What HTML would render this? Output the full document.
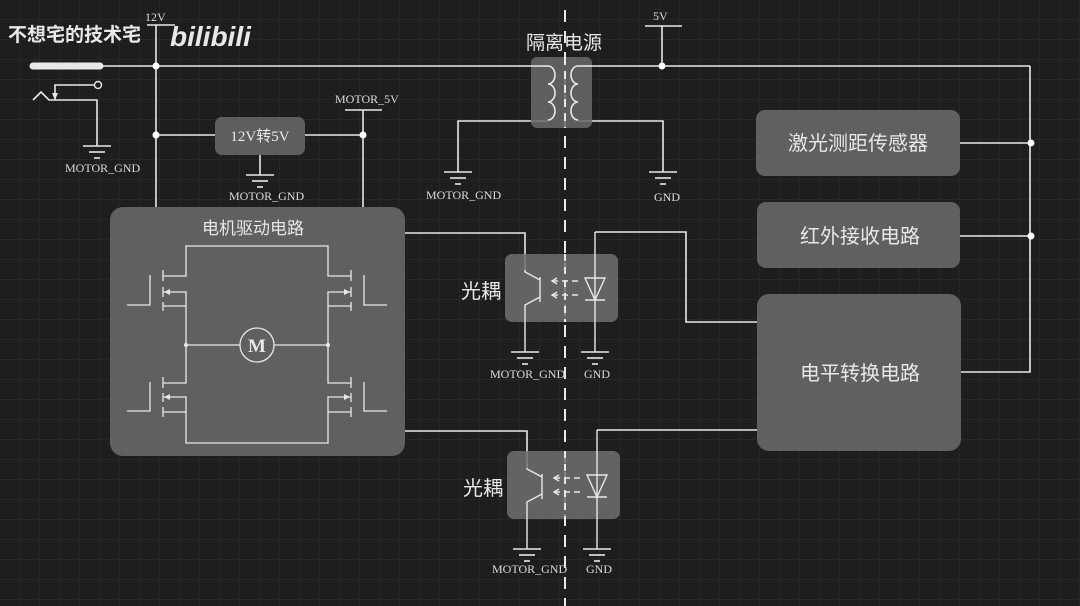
<!DOCTYPE html>
<html><head><meta charset="utf-8"><style>
html,body{margin:0;padding:0;background:#1e1e1e;}
svg{display:block;}
text{font-family:"Liberation Sans","Noto Sans CJK SC",sans-serif;fill:#e8e8e8;}
.m{font-family:"Liberation Serif","Noto Serif CJK SC",serif;font-size:12px;fill:#ddd;}
</style></head><body>
<svg width="1080" height="606" viewBox="0 0 1080 606" xmlns="http://www.w3.org/2000/svg">
<defs>
<pattern id="g" width="20" height="20" patternUnits="userSpaceOnUse">
<path d="M20 0V20M0 20H20" stroke="#2e2e2e" stroke-width="1" fill="none"/>
</pattern>
<g id="gnd" stroke="#e8e8e8" stroke-width="1.6">
<line x1="-14" y1="0" x2="14" y2="0"/><line x1="-8" y1="6" x2="8" y2="6"/><line x1="-3" y1="12" x2="3" y2="12"/>
</g>
</defs>
<rect width="1080" height="606" fill="#1e1e1e"/>
<rect width="1080" height="606" fill="url(#g)"/>

<line x1="565" y1="10" x2="565" y2="606" stroke="#e8e8e8" stroke-width="2" stroke-dasharray="12 9"/>

<g fill="none" stroke="#e8e8e8" stroke-width="1.6">
<line x1="33" y1="66" x2="100" y2="66" stroke-width="7" stroke-linecap="round"/>
<line x1="100" y1="66" x2="531" y2="66"/>
<line x1="592" y1="66" x2="1030" y2="66"/>
<polyline points="1030,66 1030,372 960,372"/>
<line x1="960" y1="143" x2="1030" y2="143"/>
<line x1="960" y1="236" x2="1030" y2="236"/>
<polyline points="33,100 41,92 49,100 97,100 97,146"/>
<polyline points="55,100 55,85 97,85"/>
<line x1="147" y1="25" x2="175" y2="25"/>
<line x1="156" y1="25" x2="156" y2="207"/>
<line x1="156" y1="135" x2="215" y2="135"/>
<line x1="305" y1="135" x2="363" y2="135"/>
<line x1="345" y1="110" x2="382" y2="110"/>
<line x1="363" y1="110" x2="363" y2="207"/>
<line x1="260" y1="155" x2="260" y2="175"/>
<polyline points="548,121 458,121 458,172"/>
<polyline points="578,121 663,121 663,172"/>
<line x1="645" y1="26" x2="682" y2="26"/>
<line x1="662" y1="26" x2="662" y2="66"/>
<polyline points="405,233 525,233 525,270"/>
<polyline points="405,431 527,431 527,468"/>
<polyline points="595,232 686,232 686,322 757,322"/>
<polyline points="597,430 757,430"/>
</g>
<circle cx="98" cy="85" r="3.5" fill="#1e1e1e" stroke="#e8e8e8" stroke-width="1.4"/>
<polygon points="55,100 52,93 58,93" fill="#e8e8e8"/>
<use href="#gnd" x="97" y="146"/>
<use href="#gnd" x="260" y="175"/>
<use href="#gnd" x="458" y="172"/>
<use href="#gnd" x="663" y="172"/>
<g fill="#fff">
<circle cx="156" cy="66" r="3.5"/><circle cx="156" cy="135" r="3.5"/><circle cx="363" cy="135" r="3.5"/>
<circle cx="662" cy="66" r="3.5"/><circle cx="1031" cy="143" r="3.5"/><circle cx="1031" cy="236" r="3.5"/>
</g>
<text class="m" x="145" y="21">12V</text>
<text class="m" x="335" y="103">MOTOR_5V</text>
<text class="m" x="65" y="172">MOTOR_GND</text>
<text class="m" x="229" y="200">MOTOR_GND</text>
<text class="m" x="426" y="199">MOTOR_GND</text>
<text class="m" x="654" y="201">GND</text>
<text class="m" x="653" y="20">5V</text>

<rect x="215" y="117" width="90" height="38" rx="7" fill="#5e5e5e"/>
<text x="260" y="141" font-size="15" text-anchor="middle" style="font-family:'Liberation Serif','Noto Sans CJK SC',serif">12V转5V</text>

<text x="564" y="49" font-size="19" text-anchor="middle">隔离电源</text>
<rect x="531" y="57" width="61" height="71" rx="6" fill="#6a6a6a" fill-opacity="0.85"/>
<line x1="565" y1="57" x2="565" y2="128" stroke="#e8e8e8" stroke-width="2" stroke-dasharray="8 6"/>
<g fill="none" stroke="#e8e8e8" stroke-width="1.6">
<polyline points="531,66 548,66"/>
<path d="M548,66 a7,9 0 0 1 0,18 a7,9 0 0 1 0,18 a7,9 0 0 1 0,18"/>
<path d="M578,66 a7,9 0 0 0 0,18 a7,9 0 0 0 0,18 a7,9 0 0 0 0,18"/>
<line x1="578" y1="66" x2="592" y2="66"/>
</g>

<rect x="110" y="207" width="295" height="249" rx="13" fill="#606060"/>
<text x="253" y="234" font-size="17" text-anchor="middle">电机驱动电路</text>
<g fill="none" stroke="#e8e8e8" stroke-width="1.3">
<polyline points="163,276 186,276 186,246 328,246 328,276 351,276"/>
<polyline points="163,292 186,292 186,383 163,383"/>
<line x1="163" y1="306" x2="186" y2="306"/>
<polyline points="163,397 186,397 186,443 328,443 328,397 351,397"/>
<line x1="163" y1="412" x2="186" y2="412"/>
<polyline points="351,292 328,292 328,383 351,383"/>
<line x1="328" y1="306" x2="351" y2="306"/>
<line x1="328" y1="412" x2="351" y2="412"/>
<line x1="163" y1="270" x2="163" y2="281"/><line x1="163" y1="287" x2="163" y2="297"/><line x1="163" y1="302" x2="163" y2="311"/>
<line x1="163" y1="377" x2="163" y2="388"/><line x1="163" y1="393" x2="163" y2="402"/><line x1="163" y1="407" x2="163" y2="417"/>
<line x1="351" y1="270" x2="351" y2="281"/><line x1="351" y1="287" x2="351" y2="297"/><line x1="351" y1="302" x2="351" y2="311"/>
<line x1="351" y1="377" x2="351" y2="388"/><line x1="351" y1="393" x2="351" y2="402"/><line x1="351" y1="407" x2="351" y2="417"/>
<polyline points="150,275 150,305 127,305"/>
<polyline points="150,382 150,411 127,411"/>
<polyline points="364,275 364,305 387,305"/>
<polyline points="364,382 364,411 387,411"/>
<line x1="186" y1="345" x2="240" y2="345"/>
<line x1="274" y1="345" x2="328" y2="345"/>
<circle cx="257" cy="345" r="17"/>
</g>
<g fill="#e8e8e8">
<polygon points="164,292 170,289 170,295"/><polygon points="164,397 170,394 170,400"/>
<polygon points="350,292 344,289 344,295"/><polygon points="350,397 344,394 344,400"/>
<circle cx="186" cy="345" r="2"/><circle cx="328" cy="345" r="2"/>
</g>
<text x="257" y="352" font-size="19" text-anchor="middle" font-weight="bold" style="font-family:'Liberation Serif',serif">M</text>

<g>
<text x="481" y="298" font-size="20" text-anchor="middle">光耦</text>
<rect x="505" y="254" width="113" height="68" rx="7" fill="#707070" fill-opacity="0.85"/>
<line x1="565" y1="254" x2="565" y2="322" stroke="#e8e8e8" stroke-width="2" stroke-dasharray="7 6"/>
<g fill="none" stroke="#e8e8e8" stroke-width="1.4">
<line x1="540" y1="277" x2="540" y2="302"/>
<polyline points="525,270 525,272 540,280"/>
<polyline points="540,297 525,305 525,352"/>
<line x1="552" y1="281" x2="580" y2="281" stroke-dasharray="6 4"/>
<line x1="552" y1="295" x2="580" y2="295" stroke-dasharray="6 4"/>
<polyline points="557,278 552,281 557,284"/><polyline points="557,292 552,295 557,298"/>
<polygon points="585,278 605,278 595,300"/>
<line x1="585" y1="300" x2="605" y2="300"/>
<line x1="595" y1="232" x2="595" y2="352"/>
</g>
<use href="#gnd" x="525" y="352"/><use href="#gnd" x="595" y="352"/>
<text class="m" x="490" y="378">MOTOR_GND</text>
<text class="m" x="584" y="378">GND</text>
</g>
<g transform="translate(2,197)">
<text x="481" y="298" font-size="20" text-anchor="middle">光耦</text>
<rect x="505" y="254" width="113" height="68" rx="7" fill="#707070" fill-opacity="0.85"/>
<line x1="563" y1="254" x2="563" y2="322" stroke="#e8e8e8" stroke-width="2" stroke-dasharray="7 6"/>
<g fill="none" stroke="#e8e8e8" stroke-width="1.4">
<line x1="540" y1="277" x2="540" y2="302"/>
<polyline points="525,271 525,272 540,280"/>
<polyline points="540,297 525,305 525,352"/>
<line x1="552" y1="281" x2="580" y2="281" stroke-dasharray="6 4"/>
<line x1="552" y1="295" x2="580" y2="295" stroke-dasharray="6 4"/>
<polyline points="557,278 552,281 557,284"/><polyline points="557,292 552,295 557,298"/>
<polygon points="585,278 605,278 595,300"/>
<line x1="585" y1="300" x2="605" y2="300"/>
<line x1="595" y1="233" x2="595" y2="352"/>
</g>
<use href="#gnd" x="525" y="352"/><use href="#gnd" x="595" y="352"/>
<text class="m" x="490" y="376">MOTOR_GND</text>
<text class="m" x="584" y="376">GND</text>
</g>

<rect x="756" y="110" width="204" height="66" rx="9" fill="#606060"/>
<text x="858" y="150" font-size="20" text-anchor="middle">激光测距传感器</text>
<rect x="757" y="202" width="203" height="66" rx="9" fill="#606060"/>
<text x="860" y="243" font-size="20" text-anchor="middle">红外接收电路</text>
<rect x="757" y="294" width="204" height="157" rx="12" fill="#606060"/>
<text x="860" y="380" font-size="20" text-anchor="middle">电平转换电路</text>

<text x="8" y="41" font-size="19" font-weight="bold" fill="#f0f0f0">不想宅的技术宅</text>
<text x="170" y="46" font-size="28" font-weight="bold" fill="#f0f0f0" style="font-style:italic">bilibili</text>
</svg>
</body></html>
